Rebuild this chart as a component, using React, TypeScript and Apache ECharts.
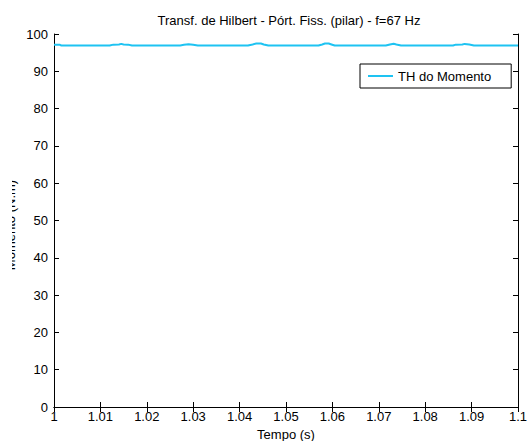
import React, { useEffect, useRef } from "react";
import * as echarts from "echarts";

const titleText = "Transf. de Hilbert - Pórt. Fiss. (pilar) - f=67 Hz";
const seriesName = "TH do Momento";
const xAxisName = "Tempo (s)";
const yAxisName = "Momento (N.m)";

// time (s)
const timeS: number[] = [
  1.0, 1.0012, 1.0016,
  1.012, 1.0128, 1.014, 1.0145, 1.015, 1.016, 1.0168,
  1.0272, 1.028, 1.029, 1.03, 1.031,
  1.0418, 1.0428, 1.0436, 1.0446, 1.0452, 1.0462,
  1.057, 1.0578, 1.0584, 1.0592, 1.0598, 1.0605,
  1.0715, 1.0724, 1.0732, 1.0738, 1.0748,
  1.086, 1.0866, 1.088, 1.0885, 1.0895, 1.0905,
  1.1,
];
// moment (N.m)
const momentValues: number[] = [
  97.15, 97.15, 96.9,
  96.9, 97.15, 97.2, 97.35, 97.2, 97.15, 96.9,
  96.9, 97.1, 97.25, 97.1, 96.9,
  96.9, 97.2, 97.45, 97.45, 97.2, 96.9,
  96.9, 97.2, 97.45, 97.45, 97.2, 96.9,
  96.9, 97.2, 97.4, 97.2, 96.9,
  96.9, 97.15, 97.2, 97.35, 97.2, 96.9,
  96.9,
];

const xMin = 1.0;
const xMax = 1.1;
const xStep = 0.01;
const yMin = 0;
const yMax = 100;
const yStep = 10;

const FONT = 'Arial, "Liberation Sans", sans-serif';
const FS = 13;
const LINE_COLOR = "#1ec3f2";

export default function App() {
  const ref = useRef<HTMLDivElement>(null);
  useEffect(() => {
    if (!ref.current) return;
    const chart = echarts.init(ref.current, undefined, { renderer: "svg" });
    const fmtX = (v: number) => parseFloat(v.toFixed(2)).toString();
    const tick = { show: true, inside: true, length: 5, lineStyle: { color: "#000", width: 1 } };
    const axisLine = { show: true, lineStyle: { color: "#000", width: 1 } };
    chart.setOption({
      animation: false,
      backgroundColor: "#fff",
      textStyle: { fontFamily: FONT },
      title: {
        text: titleText,
        left: 284,
        top: 9,
        textAlign: "center",
        textStyle: { fontSize: FS, fontWeight: "normal", color: "#000", fontFamily: FONT },
      },
      grid: {
        left: 54,
        right: 10,
        top: 34,
        bottom: 34,
        containLabel: false,
        outerBoundsMode: "none",
      },
      legend: {
        show: true,
        data: [{ name: seriesName, icon: "rect" }],
        left: 360,
        top: 64,
        orient: "vertical",
        backgroundColor: "#fff",
        borderColor: "#000",
        borderWidth: 1,
        borderRadius: 0,
        padding: [5, 20, 5, 8],
        itemWidth: 25,
        itemHeight: 2,
        itemGap: 0,
        textStyle: { fontSize: FS, color: "#000", fontFamily: FONT, lineHeight: 14 },
      },
      xAxis: [
        {
          type: "value",
          min: xMin,
          max: xMax,
          interval: xStep,
          name: xAxisName,
          nameLocation: "middle",
          nameGap: 21,
          nameTextStyle: { fontSize: FS, color: "#000", fontFamily: FONT },
          axisLine,
          axisTick: tick,
          splitLine: { show: false },
          axisLabel: { color: "#000", fontSize: FS, margin: 3, formatter: fmtX, fontFamily: FONT },
        },
        {
          type: "value",
          position: "top",
          min: xMin,
          max: xMax,
          interval: xStep,
          axisLine,
          axisTick: tick,
          splitLine: { show: false },
          axisLabel: { show: false },
        },
      ],
      yAxis: [
        {
          type: "value",
          min: yMin,
          max: yMax,
          interval: yStep,
          axisLine,
          axisTick: tick,
          splitLine: { show: false },
          axisLabel: { color: "#000", fontSize: FS, margin: 6, fontFamily: FONT },
        },
        {
          type: "value",
          position: "right",
          min: yMin,
          max: yMax,
          interval: yStep,
          axisLine,
          axisTick: tick,
          splitLine: { show: false },
          axisLabel: { show: false },
        },
      ],
      graphic: [
        {
          type: "text",
          x: 17,
          y: 225,
          rotation: Math.PI / 2,
          z: 10,
          style: {
            text: yAxisName,
            fill: "#000",
            font: `${FS}px ${FONT}`,
            align: "center",
            verticalAlign: "bottom",
          },
        },
        {
          type: "rect",
          z: 11,
          shape: { x: 0, y: 150, width: 12, height: 150 },
          style: { fill: "#fff" },
        },
      ],
      series: [
        {
          name: seriesName,
          type: "line",
          xAxisIndex: 0,
          yAxisIndex: 0,
          data: timeS.map((t, i) => [t, momentValues[i]]),
          symbol: "none",
          lineStyle: { color: LINE_COLOR, width: 2 },
          itemStyle: { color: LINE_COLOR },
        },
      ],
    });
    return () => chart.dispose();
  }, []);
  return (
    <div
      ref={ref}
      style={{ position: "fixed", left: 0, top: 0, width: 528, height: 441 }}
    />
  );
}
